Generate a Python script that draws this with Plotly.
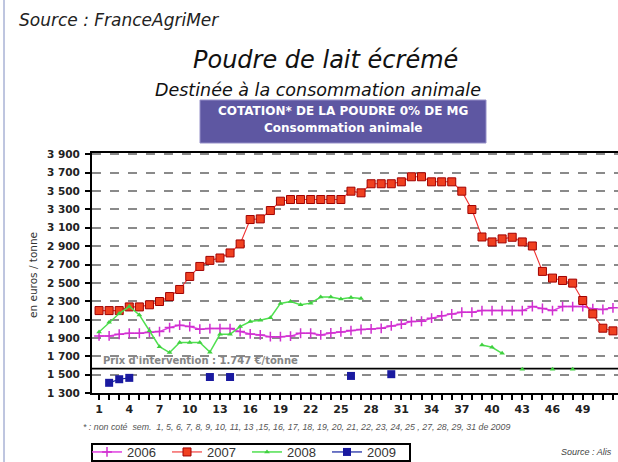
import plotly.graph_objects as go

weeks = list(range(1, 53))

v2006 = [1922, 1922, 1940, 1951, 1951, 1962, 1969, 2013, 2039, 2024,
         1995, 2002, 2002, 2002, 1969, 1944, 1933, 1914, 1914, 1920,
         1951, 1951, 1933, 1955, 1965, 1980, 1992, 1998, 2005, 2031,
         2050, 2078, 2082, 2115, 2142, 2162, 2180, 2180, 2198, 2198,
         2198, 2198, 2198, 2242, 2222, 2198, 2242, 2242, 2242, 2218,
         2210, 2228]

v2007 = [2198, 2198, 2198, 2238, 2238, 2261, 2297, 2351, 2428, 2570,
         2679, 2745, 2771, 2826, 2924, 3190, 3197, 3288, 3390, 3408,
         3408, 3408, 3408, 3408, 3408, 3499, 3481, 3580, 3580, 3580,
         3601, 3656, 3656, 3601, 3601, 3601, 3499, 3299, 3000, 2946,
         2979, 2997, 2946, 2902, 2625, 2552, 2526, 2497, 2308, 2162,
         2006, 1977]

v2008 = [1964, 2070, 2166, 2242, 2151, 1978, 1805, 1741, 1851, 1851,
         1851, 1745, 1940, 1940, 2024, 2078, 2093, 2120, 2276, 2297,
         2261, 2279, 2345, 2345, 2323, 2341, 2330, None, None, None,
         None, None, None, None, None, None, None, None, 1823, 1798,
         1732, None, 1558, None, None, 1558, None, 1558, None, None,
         None, None]

v2009 = [None, 1411, 1450, 1465, None, None, None, None, None, None,
         None, 1474, None, 1474, None, None, None, None, None, None,
         None, None, None, None, None, 1486, None, None, None, 1505,
         None, None, None, None, None, None, None, None, None, None,
         None, None, None, None, None, None, None, None, None, None,
         None, None]

y_ticks = [1300, 1500, 1700, 1900, 2100, 2300, 2500, 2700, 2900, 3100, 3300, 3500, 3700, 3900]
y_labels = ["1 300", "1 500", "1 700", "1 900", "2 100", "2 300", "2 500", "2 700",
            "2 900", "3 100", "3 300", "3 500", "3 700", "3 900"]
x_ticks = list(range(1, 53, 3))
x_labels = [str(v) for v in x_ticks]
intervention_level = 1565

W, H = 618, 462
PLOT_L, PLOT_R, PLOT_T, PLOT_B = 92, 618, 153, 393


def px(x):
    return x / W


def py(y):
    return 1 - y / H


FONT = "Liberation Sans, Arial, sans-serif"
WIDE = "DejaVu Sans, Verdana, sans-serif"

fig = go.Figure()
fig.add_trace(go.Scatter(
    x=weeks, y=v2006, name="2006", mode="lines+markers",
    line=dict(color="#E040E0", width=1.5),
    marker=dict(symbol="cross-thin", size=7, line=dict(color="#D030D0", width=1.5)),
))
fig.add_trace(go.Scatter(
    x=weeks, y=v2007, name="2007", mode="lines+markers",
    line=dict(color="#F03030", width=1.1),
    marker=dict(symbol="square", size=8, color="#F04020", line=dict(color="#A00000", width=1)),
))
fig.add_trace(go.Scatter(
    x=weeks, y=v2008, name="2008", mode="lines+markers",
    line=dict(color="#50E050", width=1.5),
    marker=dict(symbol="triangle-up", size=5, color="#40D040"),
))
fig.add_trace(go.Scatter(
    x=weeks, y=v2009, name="2009", mode="lines+markers",
    line=dict(color="#1020A0", width=1.2),
    marker=dict(symbol="square", size=8, color="#1A1AA0"),
))

fig.add_shape(type="line", xref="x domain", yref="y", x0=0, x1=1,
              y0=intervention_level, y1=intervention_level,
              line=dict(color="black", width=1.8), layer="below")

# purple box
fig.add_shape(type="rect", xref="paper", yref="paper",
              x0=px(200), x1=px(486), y0=py(143), y1=py(100),
              fillcolor="#5E57A2", line=dict(color="#9590C8", width=1))
# left page border
fig.add_shape(type="line", xref="paper", yref="paper",
              x0=px(4), x1=px(4), y0=0, y1=1,
              line=dict(color="#7F8CC0", width=1))
# legend frame
fig.add_shape(type="rect", xref="paper", yref="paper",
              x0=px(92), x1=px(410), y0=py(461), y1=py(444),
              fillcolor="white", line=dict(color="black", width=2), layer="above")

ann = []
ann.append(dict(text="<i>Source : FranceAgriMer</i>", x=px(17), y=py(20),
                xanchor="left", yanchor="middle", font=dict(family=WIDE, size=17, color="#222")))
ann.append(dict(text="<i>Poudre de lait écrémé</i>", x=px(325), y=py(60),
                xanchor="center", yanchor="middle", font=dict(family=WIDE, size=24, color="#111")))
ann.append(dict(text="<i>Destinée à la consommation animale</i>", x=px(318), y=py(90),
                xanchor="center", yanchor="middle", font=dict(family=WIDE, size=17.5, color="#111")))
ann.append(dict(text="<b>COTATION* DE LA POUDRE 0% DE MG</b>", x=px(343), y=py(111),
                xanchor="center", yanchor="middle", font=dict(family=WIDE, size=12, color="white")))
ann.append(dict(text="<b>Consommation animale</b>", x=px(343), y=py(128),
                xanchor="center", yanchor="middle", font=dict(family=WIDE, size=12, color="white")))
ann.append(dict(text="en euros / tonne", x=px(33), y=py(275), textangle=-90,
                xanchor="center", yanchor="middle", font=dict(family=WIDE, size=10.5, color="#333")))
ann.append(dict(text="<b>Prix d'intervention : 1.747 €/tonne</b>", x=px(101), y=py(360),
                xanchor="left", yanchor="middle", font=dict(family=WIDE, size=10, color="#858585")))
ann.append(dict(text="<i>* : non coté  sem.  1, 5, 6, 7, 8, 9, 10, 11, 13 ,15, 16, 17, 18, 19, 20, 21, 22, 23, 24, 25 , 27, 28, 29, 31 de 2009</i>",
                x=px(81), y=py(427), xanchor="left", yanchor="middle",
                font=dict(size=8.8, color="#555")))
ann.append(dict(text="<i>Source : Alis</i>", x=px(559), y=py(452),
                xanchor="left", yanchor="middle", font=dict(size=9, color="#444")))
for a in ann:
    a.update(xref="paper", yref="paper", showarrow=False)

fig.update_layout(
    width=W, height=H,
    margin=dict(l=0, r=0, t=0, b=0, autoexpand=False),
    paper_bgcolor="white", plot_bgcolor="white",
    font=dict(family=FONT, color="#222"),
    annotations=ann,
    showlegend=True,
    legend=dict(orientation="h", x=px(87), y=py(437), xanchor="left", yanchor="top",
                borderwidth=0, bgcolor="rgba(0,0,0,0)",
                font=dict(family=FONT, size=13, color="#333"), itemwidth=30,
                entrywidth=35, tracegroupgap=0),
)
fig.update_xaxes(
    domain=[px(PLOT_L), px(PLOT_R)],
    range=[0.3, 52.5], tickvals=x_ticks, ticktext=x_labels,
    showline=True, linecolor="black", linewidth=2, mirror=True,
    ticks="outside", ticklen=5, tickcolor="black", tickwidth=1.5,
    minor=dict(ticks="outside", dtick=1, tick0=1, ticklen=5, tickcolor="black", tickwidth=1.5),
    showgrid=False, zeroline=False,
    tickfont=dict(family=WIDE, size=11, color="#222", weight="bold"),
)
fig.update_yaxes(
    domain=[py(PLOT_B), py(PLOT_T)],
    range=[1300, 3915], tickvals=y_ticks, ticktext=y_labels,
    showline=True, linecolor="black", linewidth=2,
    ticks="outside", ticklen=5, tickcolor="black", tickwidth=1.5,
    ticklabelstandoff=3,
    showgrid=True, gridcolor="#8A8A8A", gridwidth=1.5, griddash="dash",
    zeroline=False,
    tickfont=dict(family=WIDE, size=10.5, color="#222", weight="bold"),
)

fig.write_html("out.html", config={"displayModeBar": False},
               post_script="document.body.style.margin='0';")
